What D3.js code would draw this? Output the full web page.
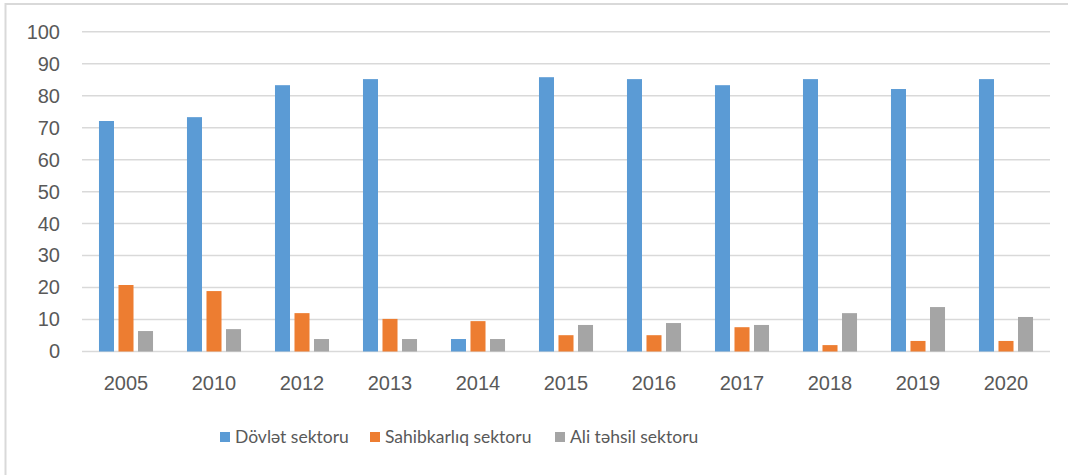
<!DOCTYPE html>
<html>
<head>
  <meta charset="utf-8" />
  <script src="https://d3js.org/d3.v7.min.js"></script>
  <style>
    body {
      margin: 0;
      background: #fff;
    }
    svg {
      display: block;
      font-family: Lato, "Open Sans", sans-serif;
    }
    .axis text {
      fill: #595959;
      font-size: 20px;
    }
  </style>
</head>
<body>
  <script>
    var years = ["2005", "2010", "2012", "2013", "2014", "2015", "2016", "2017", "2018", "2019", "2020"];
    var dovlet = [72.1, 73.3, 83.3, 85.2, 3.9, 85.8, 85.2, 83.3, 85.2, 82.1, 85.2];
    var sahibkarliq = [20.8, 18.9, 12.0, 10.2, 9.5, 5.1, 5.1, 7.6, 2.0, 3.3, 3.3];
    var aliTehsil = [6.4, 7.0, 3.9, 3.9, 3.9, 8.3, 8.9, 8.3, 12.0, 13.9, 10.8];
    var seriesNames = ["Dövlət sektoru", "Sahibkarlıq sektoru", "Ali təhsil sektoru"];
    var yTicks = [0, 10, 20, 30, 40, 50, 60, 70, 80, 90, 100];

    var series = [dovlet, sahibkarliq, aliTehsil];
    var colors = ["#5b9bd5", "#ed7d31", "#a5a5a5"];

    var W = 1068, H = 475;
    var plot = { left: 82, right: 1050, top: 31.8, bottom: 351.5 };

    var svg = d3.select("body").append("svg")
      .attr("width", W)
      .attr("height", H);

    // chart frame (only top and left edge visible in the picture)
    svg.append("rect")
      .attr("x", 5.5)
      .attr("y", 4)
      .attr("width", W + 20)
      .attr("height", H + 20)
      .attr("fill", "none")
      .attr("stroke", "#d9d9d9")
      .attr("stroke-width", 2);

    var x0 = d3.scaleBand().domain(years).range([plot.left, plot.right]).padding(0);
    var x1 = d3.scaleBand().domain(d3.range(series.length))
      .range([0, x0.bandwidth()])
      .paddingInner(0.23)
      .paddingOuter(0.87);
    var y = d3.scaleLinear().domain([0, 100]).range([plot.bottom, plot.top]);

    // gridlines
    svg.append("g")
      .selectAll("line")
      .data(yTicks)
      .enter()
      .append("line")
      .attr("x1", plot.left)
      .attr("x2", plot.right)
      .attr("y1", function(d) { return y(d); })
      .attr("y2", function(d) { return y(d); })
      .attr("stroke", "#d9d9d9")
      .attr("stroke-width", 1.5);

    // y axis labels
    var yAxis = d3.axisLeft(y).tickValues(yTicks).tickSize(0).tickPadding(0);
    svg.append("g")
      .attr("class", "axis")
      .attr("transform", "translate(60 0)")
      .call(yAxis)
      .call(function(g) { g.select(".domain").remove(); });

    // x axis labels
    var xAxis = d3.axisBottom(x0).tickSize(0).tickPadding(0);
    svg.append("g")
      .attr("class", "axis")
      .attr("transform", "translate(0 376)")
      .call(xAxis)
      .call(function(g) { g.select(".domain").remove(); })
      .selectAll("text")
      .attr("dy", "0.71em");

    // bars
    var groups = svg.append("g")
      .selectAll("g")
      .data(years)
      .enter()
      .append("g")
      .attr("transform", function(d) { return "translate(" + x0(d) + " 0)"; });

    groups.selectAll("rect")
      .data(function(d, i) {
        return series.map(function(s, k) { return { k: k, v: s[i] }; });
      })
      .enter()
      .append("rect")
      .attr("x", function(d) { return x1(d.k); })
      .attr("width", x1.bandwidth())
      .attr("y", function(d) { return y(d.v); })
      .attr("height", function(d) { return y(0) - y(d.v); })
      .attr("fill", function(d) { return colors[d.k]; });

    // legend
    var legendX = [220, 370, 555];
    var legend = svg.append("g")
      .selectAll("g")
      .data(seriesNames)
      .enter()
      .append("g")
      .attr("transform", function(d, i) { return "translate(" + legendX[i] + " 0)"; });

    legend.append("rect")
      .attr("x", 0)
      .attr("y", 432)
      .attr("width", 10)
      .attr("height", 10)
      .attr("fill", function(d, i) { return colors[i]; });

    legend.append("text")
      .attr("x", 15)
      .attr("y", 437)
      .attr("dy", "0.35em")
      .attr("fill", "#595959")
      .style("font-size", "17.5px")
      .text(function(d) { return d; });
  </script>
</body>
</html>
